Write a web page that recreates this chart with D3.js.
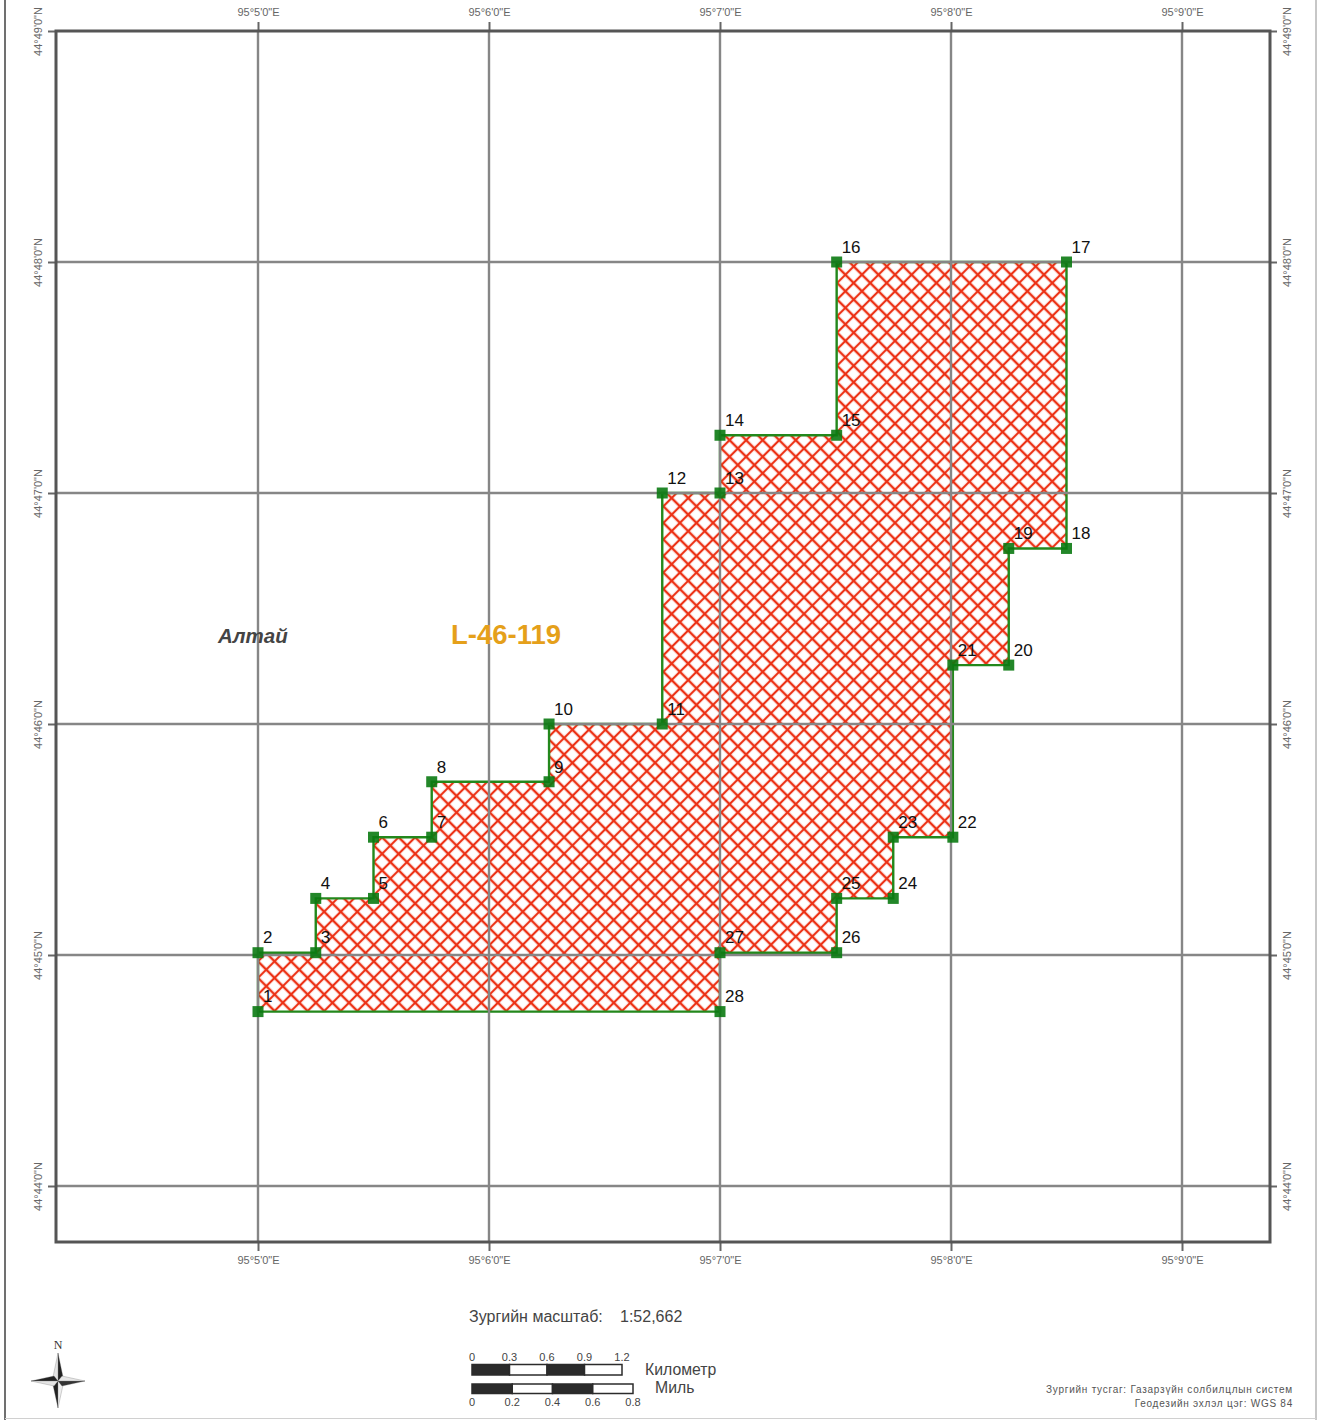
<!DOCTYPE html>
<html><head><meta charset="utf-8">
<script src="https://cdn.jsdelivr.net/npm/d3@7/dist/d3.min.js"></script>
<style>html,body{margin:0;padding:0;background:#fff}svg{display:block}text{font-family:"Liberation Sans",Arial,sans-serif}</style>
</head><body><svg id="c" width="1319" height="1420"></svg>
<script>
// Longitude minutes past 95 deg, latitude minutes past 44 deg
const lonTicks=[5,6,7,8,9];
const latTicks=[44,45,46,47,48,49];
const lonLabels=["95°5'0\"E","95°6'0\"E","95°7'0\"E","95°8'0\"E","95°9'0\"E"];
const latLabels=["44°44'0\"N","44°45'0\"N","44°46'0\"N","44°47'0\"N","44°48'0\"N","44°49'0\"N"];
const pointIds=[1,2,3,4,5,6,7,8,9,10,11,12,13,14,15,16,17,18,19,20,21,22,23,24,25,26,27,28];
const pointLon=[5,5,5.25,5.25,5.5,5.5,5.752,5.752,6.26,6.26,6.75,6.75,7,7,7.505,7.505,8.5,8.5,8.25,8.25,8.008,8.008,7.75,7.75,7.505,7.505,7,7];
const pointLat=[44.755,45.01,45.01,45.245,45.245,45.51,45.51,45.75,45.75,46,46,47,47,47.25,47.25,48,48,46.76,46.76,46.255,46.255,45.51,45.51,45.245,45.245,45.01,45.01,44.755];
const kmTicks=[0,0.3,0.6,0.9,1.2];
const kmLabels=["0","0.3","0.6","0.9","1.2"];
const mileTicks=[0,0.2,0.4,0.6,0.8];
const mileLabels=["0","0.2","0.4","0.6","0.8"];

const F={l:56,r:1270,t:31,b:1242};
const x=d3.scaleLinear().domain([5,9]).range([258,1182]);
const y=d3.scaleLinear().domain([44,49]).range([1186,31]);
const svg=d3.select("#c");

const P=11.7;
const defs=svg.append("defs");
const pat=defs.append("pattern").attr("id","hatch").attr("patternUnits","userSpaceOnUse")
 .attr("width",P).attr("height",P).attr("patternTransform","translate(258 1011) rotate(45)");
pat.append("rect").attr("width",P).attr("height",P).attr("fill","#fff");
pat.append("path").attr("d",`M0 0H${P}M0 0V${P}M0 ${P}H${P}M${P} 0V${P}`).attr("stroke","#ec3216").attr("stroke-width",2.2).attr("fill","none");

// outer page border
svg.append("path").attr("d","M5 0V1420").attr("stroke","#707070").attr("stroke-width",2);
svg.append("path").attr("d","M1316 0V1420").attr("stroke","#b5b5b5").attr("stroke-width",1.5);
svg.append("path").attr("d","M5 1418.5H1316").attr("stroke","#d0d0d0").attr("stroke-width",1);

// polygon
const pts=pointIds.map((id,i)=>({id,lon:pointLon[i],lat:pointLat[i]}));
const line=d3.line().x(d=>x(d.lon)).y(d=>y(d.lat)).curve(d3.curveLinearClosed);
svg.append("path").attr("d",line(pts)).attr("fill","url(#hatch)").attr("stroke","#23881c").attr("stroke-width",2.4);

// grid + axes
const GRID="#868686";
svg.append("g").selectAll("line.v").data(lonTicks).join("line").attr("x1",d=>x(d)).attr("x2",d=>x(d)).attr("y1",F.t).attr("y2",F.b).attr("stroke",GRID).attr("stroke-width",2.4);
svg.append("g").selectAll("line.h").data(latTicks.filter(d=>d!==49)).join("line").attr("y1",d=>y(d)).attr("y2",d=>y(d)).attr("x1",F.l).attr("x2",F.r).attr("stroke",GRID).attr("stroke-width",2.4);

// vertex markers, with the grid showing faintly through them
svg.append("g").selectAll("rect").data(pts).join("rect")
 .attr("x",d=>x(d.lon)-5.5).attr("y",d=>y(d.lat)-5.5).attr("width",11).attr("height",11).attr("fill","#0b7a12").attr("fill-opacity",0.9);

function style(g){
  g.select(".domain").remove();
  g.selectAll(".tick line").attr("stroke","#666").attr("stroke-width",2);
  g.selectAll(".tick text").attr("fill","#666").style("font-size","11px").style("font-family",'"Liberation Sans",Arial,sans-serif');
}
const lonFmt=d=>lonLabels[lonTicks.indexOf(d)], latFmt=d=>latLabels[latTicks.indexOf(d)];
svg.append("g").attr("transform",`translate(0,${F.t})`).call(d3.axisTop(x).tickValues(lonTicks).tickFormat(lonFmt).tickSizeInner(9).tickSizeOuter(0).tickPadding(6)).call(style);
svg.append("g").attr("transform",`translate(0,${F.b})`).call(d3.axisBottom(x).tickValues(lonTicks).tickFormat(lonFmt).tickSizeInner(9).tickSizeOuter(0).tickPadding(5)).call(style);
const la=svg.append("g").attr("transform",`translate(${F.l},0)`).call(d3.axisLeft(y).tickValues(latTicks).tickFormat(latFmt).tickSizeInner(8).tickSizeOuter(0)).call(style);
la.selectAll(".tick text").attr("x",null).attr("dy",null).attr("text-anchor","middle").attr("transform","translate(-14,0) rotate(-90)");
const ra=svg.append("g").attr("transform",`translate(${F.r},0)`).call(d3.axisRight(y).tickValues(latTicks).tickFormat(latFmt).tickSizeInner(7).tickSizeOuter(0)).call(style);
ra.selectAll(".tick text").attr("x",null).attr("dy",null).attr("text-anchor","middle").attr("transform","translate(21,0) rotate(-90)");

// frame
svg.append("rect").attr("x",F.l).attr("y",F.t).attr("width",F.r-F.l).attr("height",F.b-F.t).attr("fill","none").attr("stroke","#555").attr("stroke-width",3);

// point labels
svg.append("g").selectAll("text").data(pts).join("text")
 .attr("x",d=>x(d.lon)+5).attr("y",d=>y(d.lat)-9.2).text(d=>d.id).attr("font-size",17).attr("fill","#111");

// names
svg.append("text").attr("x",218).attr("y",643).text("Алтай").attr("font-size",20.5).attr("font-weight","bold").attr("font-style","italic").attr("fill","#444");
svg.append("text").attr("x",451).attr("y",644).text("L-46-119").attr("font-size",27.5).attr("font-weight","bold").attr("fill","#e5a01a");

// scale text
svg.append("text").attr("x",469).attr("y",1322).text("Зургийн масштаб:").attr("font-size",16).attr("fill","#444");
svg.append("text").attr("x",620).attr("y",1322).text("1:52,662").attr("font-size",16).attr("fill","#444");

// scale bars
function bar(ticks,labels,r,top,h,labelY,anchorName,nameX,nameY){
  const s=d3.scaleLinear().domain([ticks[0],ticks[ticks.length-1]]).range(r);
  const g=svg.append("g");
  g.selectAll("rect").data(d3.pairs(ticks)).join("rect")
   .attr("x",d=>s(d[0])).attr("y",top).attr("width",d=>s(d[1])-s(d[0])).attr("height",h)
   .attr("fill",(d,i)=>i%2?"#fff":"#2b2b2b").attr("stroke","#2b2b2b").attr("stroke-width",1.5);
  g.selectAll("text").data(ticks).join("text").attr("x",d=>s(d)).attr("y",labelY).attr("text-anchor","middle")
   .text((d,i)=>labels[i]).attr("font-size",11).attr("fill","#444");
  svg.append("text").attr("x",nameX).attr("y",nameY).text(anchorName).attr("font-size",15.8).attr("fill","#444");
}
bar(kmTicks,kmLabels,[472,622],1364.5,10.5,1361,"Километр",645,1375);
bar(mileTicks,mileLabels,[472,633],1384,9.5,1406,"Миль",655,1393);

// attribution
const at=svg.append("g").attr("text-anchor","end").attr("font-size",10).attr("fill","#555").style("letter-spacing","0.75px");
at.append("text").attr("x",1293).attr("y",1393).text("Зургийн тусгаг: Газарзүйн солбилцлын систем");
at.append("text").attr("x",1293).attr("y",1407).text("Геодезийн эхлэл цэг: WGS 84");

// north arrow
const na=svg.append("g").attr("transform","translate(58,1381)");
[["M0 -28L5 -4L0 0Z","#222"],["M0 -28L-5 -4L0 0Z","#e4e4e4"],["M0 27L-5 4L0 0Z","#222"],["M0 27L5 4L0 0Z","#eee"],
 ["M-27 0L-4 -5L0 0Z","#222"],["M-27 0L-4 5L0 0Z","#e4e4e4"],["M27 0L4 5L0 0Z","#333"],["M27 0L4 -5L0 0Z","#e8e8e8"]]
 .forEach(p=>na.append("path").attr("d",p[0]).attr("fill",p[1]).attr("stroke","#666").attr("stroke-width",0.3));
na.append("text").attr("x",0).attr("y",-32).attr("text-anchor","middle").text("N").style("font-family",'"Liberation Serif",serif').attr("font-size",12).attr("fill","#333");
</script></body></html>
